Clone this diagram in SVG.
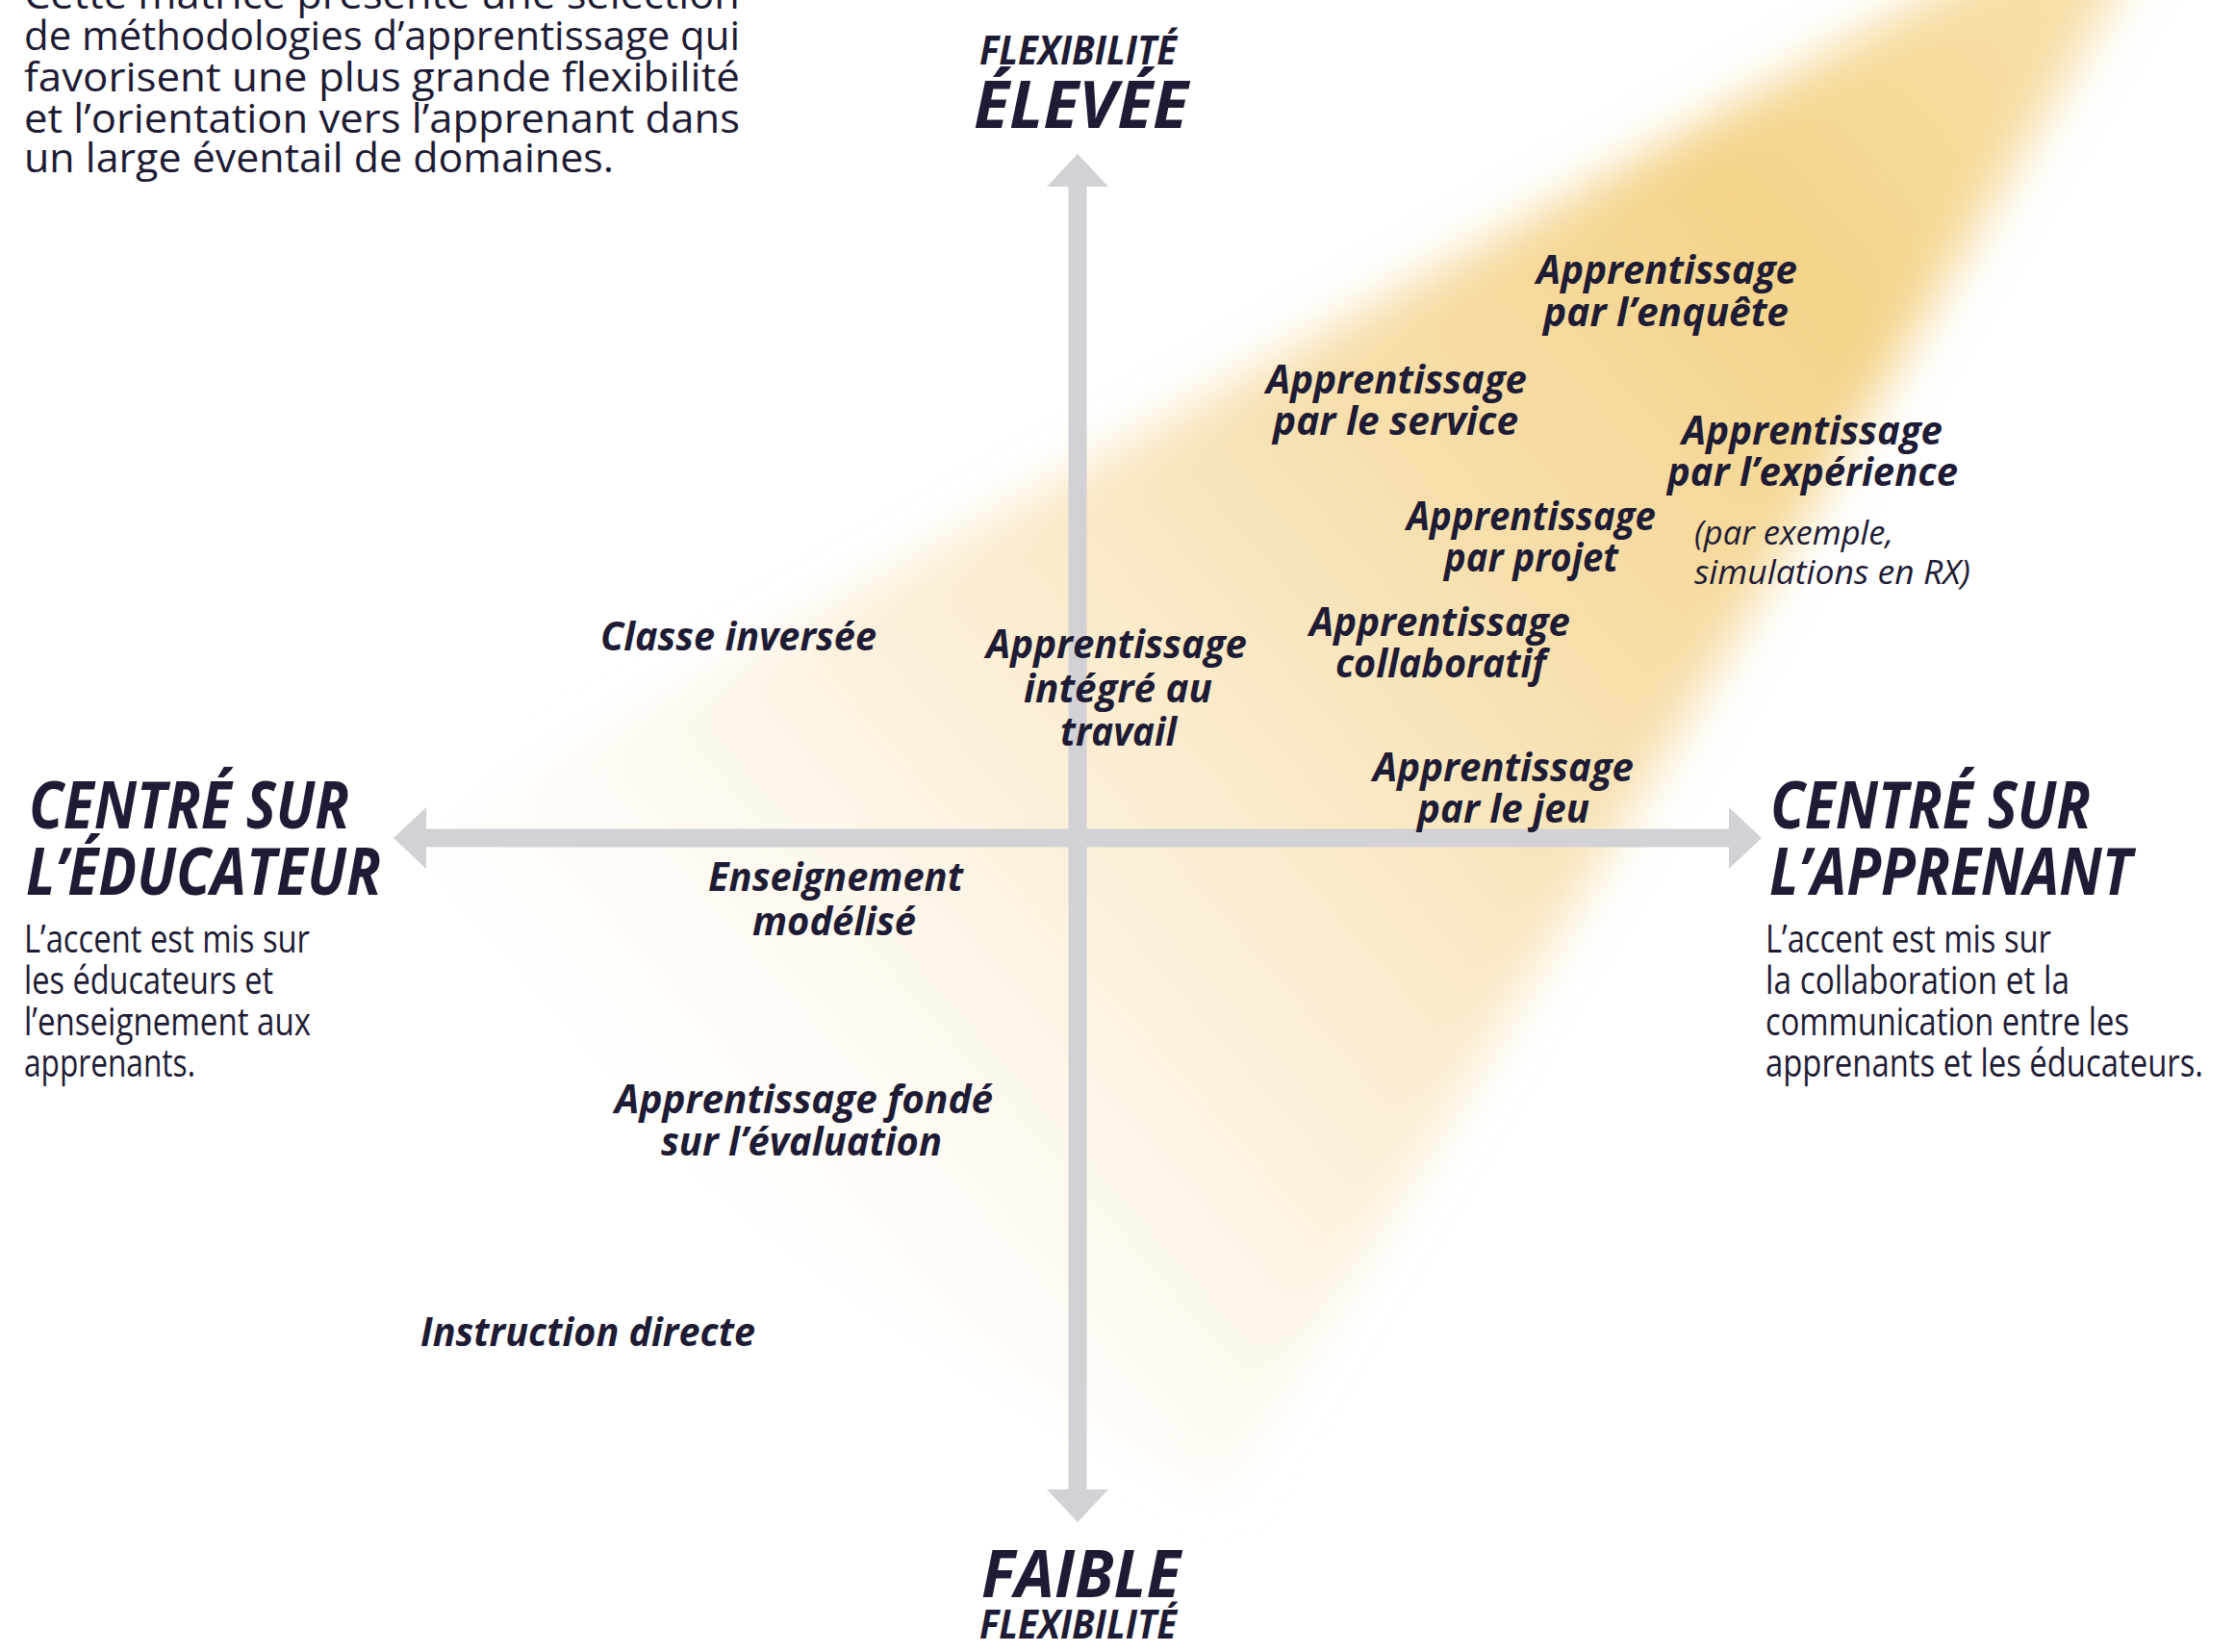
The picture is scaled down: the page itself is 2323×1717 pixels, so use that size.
<svg xmlns="http://www.w3.org/2000/svg" width="2323" height="1717" viewBox="0 0 2323 1717">
<defs>
<style>
text{font-family:"Open Sans","Noto Sans","DejaVu Sans",sans-serif;fill:#1e1b34}
.lab{font-size:42px;font-weight:700;font-style:italic}
.head{font-size:68px;font-weight:700;font-style:italic}
.sub{font-size:41px;font-weight:700;font-style:italic}
.body{font-size:40px;font-weight:400}
.intro{font-size:42px;font-weight:400}
.note{font-size:35px;font-weight:400;font-style:italic}
.axis{stroke:#d2d1d6;stroke-width:19;fill:none}
</style>
<marker id="ah" viewBox="0 0 34 64" refX="0" refY="32" markerWidth="34" markerHeight="64" markerUnits="userSpaceOnUse" orient="auto-start-reverse">
<path d="M0,0 L34,32 L0,64 Z" fill="#d2d1d6"/>
</marker>
<linearGradient id="glowGrad" gradientUnits="userSpaceOnUse" x1="2290" y1="-160" x2="650" y2="1280">
<stop offset="0" stop-color="#f6dc9e" stop-opacity="0.75"/>
<stop offset="0.28" stop-color="#f4d389" stop-opacity="1"/>
<stop offset="0.5" stop-color="#f6dba2" stop-opacity="0.85"/>
<stop offset="0.72" stop-color="#f9e7c3" stop-opacity="0.62"/>
<stop offset="0.9" stop-color="#fdf5e8" stop-opacity="0.3"/>
<stop offset="1" stop-color="#ffffff" stop-opacity="0"/>
</linearGradient>
<filter id="soft" x="-20%" y="-20%" width="140%" height="140%">
<feGaussianBlur stdDeviation="25"/>
</filter>
</defs>
<rect width="2323" height="1717" fill="#ffffff"/>

<g id="glow">
<polygon points="2290,-160 230,980 1270,1560" fill="url(#glowGrad)" filter="url(#soft)"/>
</g>

<g id="intro">
<text class="intro" x="25" y="9" textLength="744" lengthAdjust="spacingAndGlyphs">Cette matrice présente une sélection</text>
<text class="intro" x="25" y="52" textLength="744" lengthAdjust="spacingAndGlyphs">de méthodologies d’apprentissage qui</text>
<text class="intro" x="25" y="95" textLength="744" lengthAdjust="spacingAndGlyphs">favorisent une plus grande flexibilité</text>
<text class="intro" x="25" y="138" textLength="744" lengthAdjust="spacingAndGlyphs">et l’orientation vers l’apprenant dans</text>
<text class="intro" x="25" y="179" textLength="613" lengthAdjust="spacingAndGlyphs">un large éventail de domaines.</text>
</g>

<g id="connectors">
<line class="axis" x1="1120" y1="1548" x2="1120" y2="194" marker-start="url(#ah)" marker-end="url(#ah)"/>
<line class="axis" x1="443" y1="871" x2="1797" y2="871" marker-start="url(#ah)" marker-end="url(#ah)"/>
</g>

<g id="axis-top">
<text class="sub" x="1018" y="67" textLength="205" lengthAdjust="spacingAndGlyphs">FLEXIBILITÉ</text>
<text class="head" x="1012" y="133" textLength="223" lengthAdjust="spacingAndGlyphs">ÉLEVÉE</text>
</g>
<g id="axis-bottom">
<text class="head" x="1020" y="1660" textLength="207" lengthAdjust="spacingAndGlyphs">FAIBLE</text>
<text class="sub" x="1018" y="1703" textLength="205" lengthAdjust="spacingAndGlyphs">FLEXIBILITÉ</text>
</g>
<g id="axis-left">
<text class="head" x="30" y="861" textLength="333" lengthAdjust="spacingAndGlyphs">CENTRÉ SUR</text>
<text class="head" x="27" y="930" textLength="369" lengthAdjust="spacingAndGlyphs">L’ÉDUCATEUR</text>
<text class="body" x="25" y="990" textLength="297" lengthAdjust="spacingAndGlyphs">L’accent est mis sur</text>
<text class="body" x="25" y="1033" textLength="259" lengthAdjust="spacingAndGlyphs">les éducateurs et</text>
<text class="body" x="25" y="1076" textLength="298" lengthAdjust="spacingAndGlyphs">l’enseignement aux</text>
<text class="body" x="25" y="1119" textLength="178" lengthAdjust="spacingAndGlyphs">apprenants.</text>
</g>
<g id="axis-right">
<text class="head" x="1840" y="861" textLength="333" lengthAdjust="spacingAndGlyphs">CENTRÉ SUR</text>
<text class="head" x="1839" y="930" textLength="377" lengthAdjust="spacingAndGlyphs">L’APPRENANT</text>
<text class="body" x="1835" y="990" textLength="297" lengthAdjust="spacingAndGlyphs">L’accent est mis sur</text>
<text class="body" x="1835" y="1033" textLength="316" lengthAdjust="spacingAndGlyphs">la collaboration et la</text>
<text class="body" x="1835" y="1076" textLength="378" lengthAdjust="spacingAndGlyphs">communication entre les</text>
<text class="body" x="1835" y="1119" textLength="455" lengthAdjust="spacingAndGlyphs">apprenants et les éducateurs.</text>
</g>

<g id="m-enquete">
<text class="lab" x="1597" y="295" textLength="271" lengthAdjust="spacingAndGlyphs">Apprentissage</text>
<text class="lab" x="1604" y="339" textLength="255" lengthAdjust="spacingAndGlyphs">par l’enquête</text>
</g>
<g id="m-service">
<text class="lab" x="1316" y="409" textLength="271" lengthAdjust="spacingAndGlyphs">Apprentissage</text>
<text class="lab" x="1323" y="452" textLength="255" lengthAdjust="spacingAndGlyphs">par le service</text>
</g>
<g id="m-experience">
<text class="lab" x="1748" y="462" textLength="271" lengthAdjust="spacingAndGlyphs">Apprentissage</text>
<text class="lab" x="1733" y="505" textLength="302" lengthAdjust="spacingAndGlyphs">par l’expérience</text>
<text class="note" x="1761" y="566" textLength="207" lengthAdjust="spacingAndGlyphs">(par exemple,</text>
<text class="note" x="1761" y="607" textLength="287" lengthAdjust="spacingAndGlyphs">simulations en RX)</text>
</g>
<g id="m-projet">
<text class="lab" x="1462" y="551" textLength="259" lengthAdjust="spacingAndGlyphs">Apprentissage</text>
<text class="lab" x="1501" y="594" textLength="181" lengthAdjust="spacingAndGlyphs">par projet</text>
</g>
<g id="m-collaboratif">
<text class="lab" x="1361" y="661" textLength="271" lengthAdjust="spacingAndGlyphs">Apprentissage</text>
<text class="lab" x="1388" y="704" textLength="219" lengthAdjust="spacingAndGlyphs">collaboratif</text>
</g>
<g id="m-integre">
<text class="lab" x="1025" y="684" textLength="271" lengthAdjust="spacingAndGlyphs">Apprentissage</text>
<text class="lab" x="1064" y="730" textLength="196" lengthAdjust="spacingAndGlyphs">intégré au</text>
<text class="lab" x="1102" y="775" textLength="121" lengthAdjust="spacingAndGlyphs">travail</text>
</g>
<g id="m-jeu">
<text class="lab" x="1427" y="812" textLength="271" lengthAdjust="spacingAndGlyphs">Apprentissage</text>
<text class="lab" x="1473" y="855" textLength="179" lengthAdjust="spacingAndGlyphs">par le jeu</text>
</g>
<g id="m-classe">
<text class="lab" x="624" y="676" textLength="287" lengthAdjust="spacingAndGlyphs">Classe inversée</text>
</g>
<g id="m-enseignement">
<text class="lab" x="736" y="926" textLength="265" lengthAdjust="spacingAndGlyphs">Enseignement</text>
<text class="lab" x="782" y="972" textLength="170" lengthAdjust="spacingAndGlyphs">modélisé</text>
</g>
<g id="m-evaluation">
<text class="lab" x="639" y="1157" textLength="393" lengthAdjust="spacingAndGlyphs">Apprentissage fondé</text>
<text class="lab" x="687" y="1201" textLength="292" lengthAdjust="spacingAndGlyphs">sur l’évaluation</text>
</g>
<g id="m-instruction">
<text class="lab" x="437" y="1399" textLength="348" lengthAdjust="spacingAndGlyphs">Instruction directe</text>
</g>
</svg>
